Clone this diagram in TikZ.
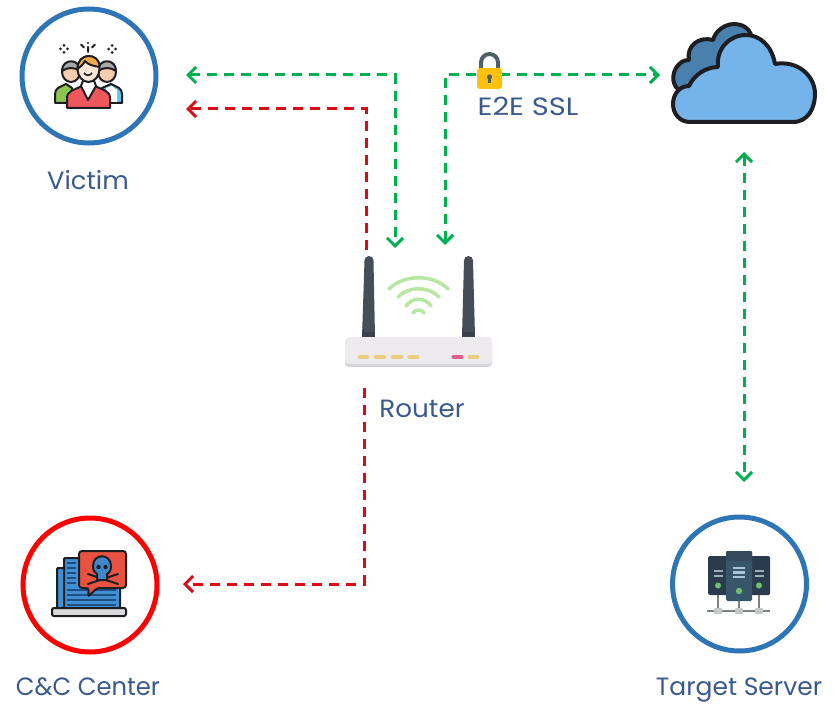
\documentclass[tikz,border=0pt]{standalone}
\usepackage{fontspec}
\setmainfont{Poppins}
\usetikzlibrary{arrows.meta}
\definecolor{ringblue}{HTML}{2E75B6}
\definecolor{labelblue}{HTML}{3A5A8E}
\definecolor{linegreen}{HTML}{00B050}
\definecolor{linered}{HTML}{DC0A14}
\definecolor{ink}{HTML}{1E1E22}
\definecolor{cloudfront}{HTML}{74B4EA}
\definecolor{cloudback}{HTML}{4A80AE}
\definecolor{mast}{HTML}{454D59}
\definecolor{mastbase}{HTML}{3A414C}
\definecolor{casetop}{HTML}{EDEBEE}
\definecolor{casebottom}{HTML}{D6D6D8}
\definecolor{ledamber}{HTML}{E9CE80}
\definecolor{ledrose}{HTML}{D9608A}
\definecolor{wifi}{HTML}{B7E7A0}
\definecolor{shackle}{HTML}{4F5F68}
\definecolor{lockbody}{HTML}{FFC10E}
\definecolor{skin}{HTML}{F7CDB0}
\definecolor{hairgrey}{HTML}{A8A8A8}
\definecolor{hairgold}{HTML}{F5AA4C}
\definecolor{shirtred}{HTML}{F0575C}
\definecolor{shirtgreen}{HTML}{8CC650}
\definecolor{shirtblue}{HTML}{5CC8EA}
\definecolor{bubble}{HTML}{E8533F}
\definecolor{screenblue}{HTML}{3F8FD2}
\definecolor{screenline}{HTML}{1F4E80}
\definecolor{skull}{HTML}{3F86CC}
\definecolor{rackdark}{HTML}{2B3B4E}
\definecolor{rackmid}{HTML}{38566A}
\definecolor{racktop}{HTML}{324A5B}
\definecolor{rackled}{HTML}{6DBE6D}
\definecolor{rackbar}{HTML}{A9C4D4}
\definecolor{rackbus}{HTML}{7C8280}
\definecolor{rackfoot}{HTML}{C4C8C6}
\tikzset{
  ring/.style={circle,draw=ringblue,line width=5pt,minimum size=134pt,inner sep=0pt},
  redring/.style={ring,draw=red},
  caption/.style={text=labelblue,font=\fontsize{25}{29}\selectfont,inner sep=0pt,anchor=base},
  link/.style={line width=3pt,dash pattern=on 10pt off 7pt},
  safe/.style={link,draw=linegreen},
  bad/.style={link,draw=linered},
  both/.style={{Straight Barb[length=8pt,width=16pt,line width=3pt]}-{Straight Barb[length=8pt,width=16pt,line width=3pt]}},
  ahead/.style={-{Straight Barb[length=8pt,width=16pt,line width=3pt]}},
  icon/.style={draw=ink,line width=2pt,line join=round},
}
\begin{document}
\begin{tikzpicture}[x=1pt,y=-1pt]
\useasboundingbox (0,0) rectangle (839,717);
\fill[white] (0,0) rectangle (839,717);

% Rings
\node[ring] (victim) at (89,76) {};
\node[redring] (cnc) at (90,585) {};
\node[ring] (target) at (739.5,584) {};

% Captions
\node[caption] (victimlabel) at (88,189) {\scalebox{1.03}[1]{Victim}};
\node[caption] (ssllabel) at (528,115) {\scalebox{1.16}[1]{E2E SSL}};
\node[caption] (routerlabel) at (422,417) {\scalebox{1.05}[1]{Router}};
\node[caption] (cnclabel) at (88,695) {\scalebox{.97}[1]{C\&C Center}};
\node[caption] (targetlabel) at (739,695) {Target Server};

% Connector ends
\coordinate (vg) at (186,75);
\coordinate (vr) at (186,109);
\coordinate (cr) at (183,584);
\coordinate (rg1) at (395,248);
\coordinate (rg2) at (445,245);
\coordinate (rr1) at (366,250);
\coordinate (rr2) at (364,388);
\coordinate (cg) at (660,75);
\coordinate (cv) at (744,152);
\coordinate (tv) at (744,482);

% Connectors
\draw[safe,both] (vg) -| (rg1);
\draw[safe,both] (rg2) |- (cg);
\draw[bad,ahead] (rr1) |- (vr);
\draw[bad,ahead] (rr2) |- (cr);
\draw[safe,both] (cv) -- (tv);

% Padlock
\draw[line width=4pt,draw=shackle] (481,70) -- (481,62.5) arc[start angle=180,end angle=360,radius=8.5] -- (498,70);
\fill[rounded corners=3pt,fill=lockbody] (477,68) rectangle (502,89);
\fill[shackle] (489.5,77) circle (2.6);
\fill[shackle] (488,77) rectangle (491,83);

% People
\draw[icon,fill=shirtgreen] (55,103) -- (55,94) .. controls (55,88) and (60,87) .. (66,84) -- (72,88) -- (72,103) -- cycle;
\draw[icon,fill=shirtblue] (122,103) -- (122,94) .. controls (122,88) and (117,87) .. (111,84) -- (102,88) -- (102,103) -- cycle;
\fill[white] (106,88) -- (112,86) -- (117,90) -- (117,102) -- (108,102) -- cycle;
\draw[icon,fill=skin] (71,72) ellipse (9 and 10);
\draw[icon,fill=hairgrey] (62,71) .. controls (62,58) and (80,58) .. (80,71) .. controls (74,67) and (68,67) .. cycle;
\draw[icon,fill=skin] (107,72) ellipse (9 and 10);
\draw[icon,fill=hairgrey] (98,71) .. controls (98,58) and (116,58) .. (116,71) .. controls (110,67) and (104,67) .. cycle;
\draw[icon,fill=shirtred] (67,108) -- (67,98) .. controls (67,91) and (74,90) .. (82,86) -- (95,86) .. controls (103,90) and (110,91) .. (110,98) -- (110,108) -- cycle;
\draw[icon,fill=white] (81,86) -- (88,100) -- (96,86) -- (93,78) -- (84,78) -- cycle;
\draw[icon,fill=skin!45!white] (88.5,69) ellipse (11 and 13);
\draw[icon,fill=hairgold] (77.5,69) .. controls (77,52) and (100,52) .. (99.5,67) .. controls (94,66) and (88,65) .. (85,61) .. controls (83,65) and (80,67) .. cycle;
\draw[line width=1.6pt,ink] (84,73) .. controls (86,76) and (90,76) .. (92,73);
\foreach \sx in {64,112} {
  \fill[ink] (\sx,45.5) circle (1.5) (\sx,52.5) circle (1.5) (\sx-3.5,49) circle (1.5) (\sx+3.5,49) circle (1.5);
}
\draw[line width=2pt,ink,line cap=round] (88,47) -- (88,52) (81,44.5) -- (84,47.5) (95,44.5) -- (92,47.5);
\fill[ink] (88,43) circle (1.2);

% Cloud
\draw[draw=ink,line width=4pt,line join=round,fill=cloudback]
  (686,92) .. controls (674,92) and (670,78) .. (676,68) .. controls (680,62) and (684,60) .. (689,60)
  .. controls (686,46) and (699,36) .. (713,40) .. controls (716,28) and (732,19) .. (745,27) .. controls (750,30) and (752,36) .. (752,40) -- (720,90) -- cycle;
\draw[draw=ink,line width=4pt,line join=round,fill=cloudfront]
  (690,122) -- (793,122) .. controls (808,122) and (815,108) .. (815,94) .. controls (815,76) and (798,60) .. (775,64)
  .. controls (772,46) and (760,35) .. (746,35) .. controls (730,35) and (716,48) .. (718,67)
  .. controls (706,67) and (694,75) .. (689,86) .. controls (678,86) and (673,96) .. (673,104) .. controls (673,114) and (680,122) .. (690,122) -- cycle;

% Router
\fill[mast] (362,337) -- (364.5,260.5) arc[start angle=180,end angle=360,radius=4.5] -- (375,337) -- cycle;
\fill[mast] (462,337) -- (464,260.5) arc[start angle=180,end angle=360,radius=4.5] -- (475,337) -- cycle;
\fill[mastbase] (362,332) rectangle (375,337);
\fill[mastbase] (462,332) rectangle (475,337);
\fill[rounded corners=4pt,fill=casebottom] (345,340) rectangle (492,367);
\fill[rounded corners=4pt,fill=casetop] (345,337) rectangle (492,364);
\foreach \ax/\bx/\lc in {358/369/ledamber,374/386/ledamber,391/403/ledamber,408/419/ledamber,452/463/ledrose,468/479/ledamber}
  \draw[line width=4pt,line cap=round,draw=\lc] (\ax+1.5,357) -- (\bx-1.5,357);
\foreach \ax/\bx/\ey/\cy in {389/448/289/274,398/439/297/286,406/431/306/297,413/424/313/309}
  \draw[line width=3.5pt,line cap=round,draw=wifi] (\ax,\ey) .. controls (\ax+0.25*\bx-0.25*\ax,\cy) and (\bx-0.25*\bx+0.25*\ax,\cy) .. (\bx,\ey);

% Hacked laptop
\draw[line width=2pt,draw=ink,fill=screenblue,rounded corners=1pt] (57,608) -- (57,568) -- (64,568) -- (64,608) -- cycle;
\draw[line width=2pt,draw=ink,fill=screenblue,rounded corners=1pt] (64,608) -- (64,558) -- (80,558) -- (80,585) -- (120,585) -- (120,608) -- cycle;
\foreach \ly in {563,568,573,578,583}
  \draw[line width=1.5pt,draw=screenline] (67,\ly) -- (76,\ly);
\foreach \ly in {590,595,600,605}
  \draw[line width=1.5pt,draw=screenline] (67,\ly) -- (116,\ly);
\draw[line width=2pt,draw=ink,fill=black!15,rounded corners=2pt] (52,608) rectangle (126,616);
\draw[line width=2pt,draw=ink,fill=bubble,rounded corners=3pt] (79,551) -- (126,551) -- (126,588) -- (97,588) -- (88,597) -- (89,588) -- (79,588) -- cycle;
\draw[line width=2pt,draw=ink,line cap=round] (88,574) -- (118,584) (118,574) -- (88,584);
\draw[line width=2pt,draw=ink,fill=skull] (93,566) .. controls (93,553) and (111,553) .. (111,566) .. controls (111,571) and (109,573) .. (107,574) -- (107,580) -- (97,580) -- (97,574) .. controls (95,573) and (93,571) .. (93,566) -- cycle;
\fill[ink] (98.5,567) circle (2.2) (105.5,567) circle (2.2);

% Server rack
\draw[line width=2pt,draw=rackbus] (707,611) -- (770,611);
\foreach \sx in {718,739,759} {
  \draw[line width=2pt,draw=rackbus] (\sx,595) -- (\sx,611);
  \fill[rackfoot,rounded corners=1pt] (\sx-4,608) rectangle (\sx+4,614);
}
\fill[rackdark,rounded corners=1.5pt] (708,556) rectangle (728,595);
\fill[rackdark,rounded corners=1.5pt] (750,556) rectangle (770,595);
\fill[rackmid,rounded corners=1.5pt] (726,551) rectangle (752,601);
\fill[racktop,rounded corners=1pt] (726,551) rectangle (752,561);
\foreach \ly in {568,572.5,577} \fill[rackbar] (733,\ly-1.3) rectangle (745,\ly+1.3);
\foreach \ly in {571,576} {
  \fill[rackbar!70!gray] (714,\ly-0.9) rectangle (723,\ly+0.9);
  \fill[rackbar!70!gray] (755,\ly-0.9) rectangle (764,\ly+0.9);
}
\fill[rackled] (739,591) circle (3.2) (718,585.5) circle (3) (759,585.5) circle (3);
\end{tikzpicture}
\end{document}
